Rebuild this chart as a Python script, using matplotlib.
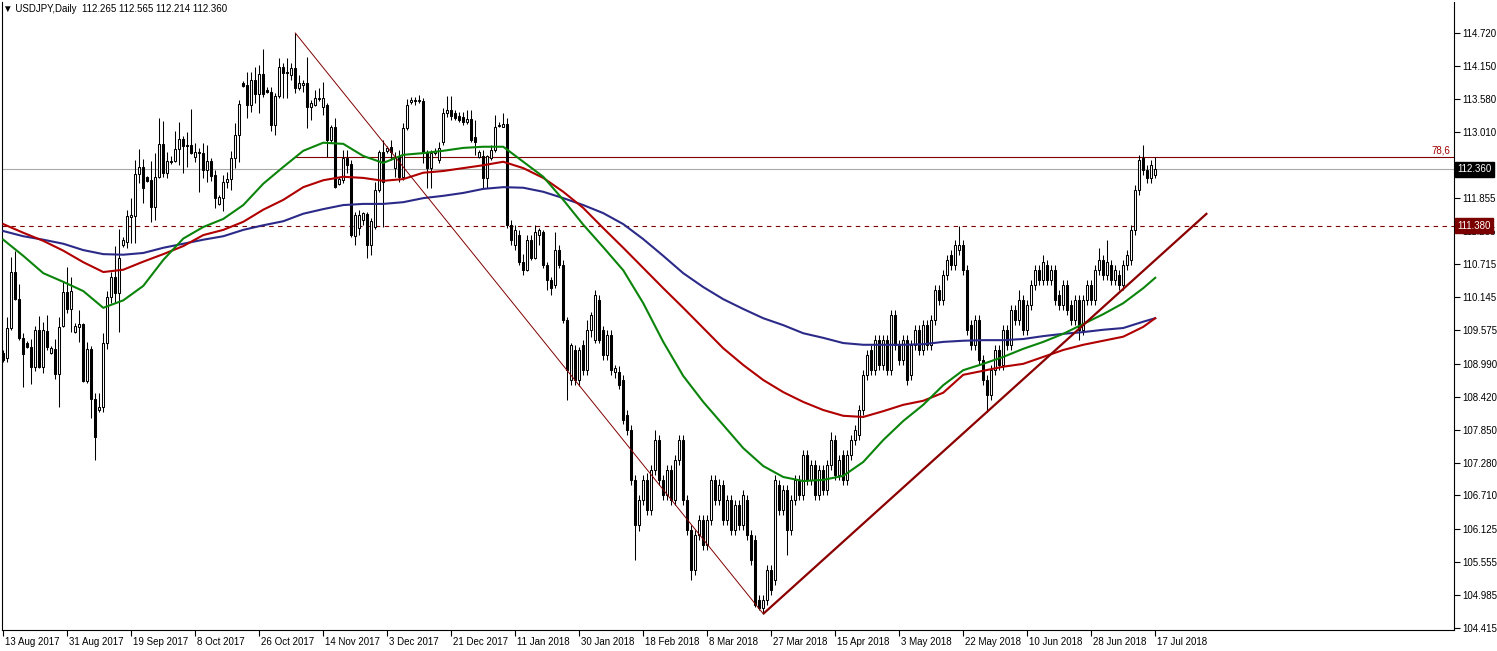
import matplotlib
matplotlib.use("Agg")
import matplotlib.pyplot as plt
import matplotlib.transforms as mtransforms
import numpy as np

plt.rcParams['font.family'] = ['Liberation Sans', 'DejaVu Sans']

# ---------------- data ----------------
open_ = [
 109.18,109.09,109.61,110.58,110.11,109.44,109.35,109.28,108.94,109.58,
 108.94,109.56,109.18,109.25,108.81,109.65,110.23,109.94,109.54,109.63,
 109.68,108.70,109.25,108.38,108.19,108.24,109.35,110.15,110.49,110.22,
 111.05,111.10,111.53,111.55,112.28,112.40,112.23,112.17,111.71,112.23,
 112.80,112.30,112.49,112.50,112.71,112.88,112.78,112.78,112.57,112.66,
 112.64,112.35,112.50,112.26,111.76,111.86,112.14,112.19,112.56,112.95,
 113.85,113.82,113.47,113.91,113.66,114.01,113.73,113.70,113.13,113.63,
 114.13,114.04,113.99,114.11,113.77,113.82,113.86,113.44,113.47,113.58,
 113.44,113.47,112.87,113.09,112.11,112.17,112.56,112.45,111.20,111.34,
 111.48,111.59,111.05,111.36,112.00,112.66,112.68,112.75,112.38,112.59,
 112.23,113.08,113.53,113.56,113.54,113.54,112.66,112.38,112.64,112.52,
 112.83,113.33,113.39,113.33,113.28,113.27,113.18,113.23,112.92,112.57,
 112.59,112.21,112.56,112.69,113.11,113.09,113.14,111.39,111.05,111.22,
 110.75,110.62,111.14,110.82,111.22,111.27,110.70,110.44,110.36,110.96,
 110.70,109.75,108.71,109.23,108.71,109.32,108.88,109.58,109.40,110.10,
 109.58,109.14,109.49,108.85,108.85,108.71,108.10,107.85,106.98,106.20,
 106.63,106.98,106.46,107.15,107.67,106.98,106.72,107.15,106.63,107.32,
 107.67,106.63,106.11,105.42,106.03,106.29,105.85,106.29,106.98,106.63,
 106.89,106.29,106.63,106.11,106.55,106.20,106.63,106.03,105.94,104.90,
 104.76,104.90,105.42,105.25,106.89,106.46,106.80,106.11,106.63,106.98,
 106.72,107.41,106.98,107.24,106.72,107.15,106.81,107.24,107.67,107.06,
 107.41,106.98,107.41,107.67,107.76,108.19,108.80,109.23,108.88,109.40,
 108.97,109.40,108.88,109.84,109.32,109.06,109.40,108.80,109.32,109.58,
 109.23,109.66,109.32,109.75,110.27,110.10,110.53,110.88,110.70,110.96,
 111.05,110.62,109.66,109.32,109.75,109.06,108.71,108.45,108.88,109.23,
 108.97,109.58,109.32,109.92,109.75,110.10,109.58,110.01,110.36,110.62,
 110.44,110.70,110.44,110.62,110.18,110.01,110.36,110.01,109.75,110.10,
 109.58,110.10,110.36,110.10,110.62,110.79,110.53,110.70,110.44,110.53,
 110.36,110.70,110.79,111.31,112.00,112.56,112.35,112.21,112.265]
high = [
 109.23,109.80,110.84,110.95,110.37,109.53,109.39,109.42,109.65,109.82,
 109.72,109.84,109.30,109.42,109.80,110.41,110.67,110.49,109.70,109.92,
 109.70,109.37,109.30,108.49,108.49,109.53,110.25,110.58,111.03,111.33,
 111.19,111.66,111.86,112.52,112.71,112.54,112.24,112.50,112.64,113.25,
 113.20,112.66,112.59,113.02,113.18,112.94,113.01,113.40,112.82,112.73,
 112.82,112.78,112.56,112.35,111.92,112.26,112.31,112.68,113.16,113.56,
 113.89,114.04,114.04,114.13,114.17,114.44,113.79,113.79,113.68,114.29,
 114.20,114.29,114.20,114.72,113.99,113.91,114.31,113.56,113.73,113.77,
 113.87,113.51,113.13,113.25,112.23,112.69,112.69,112.52,111.62,111.66,
 111.62,111.62,111.52,112.14,112.69,112.87,112.76,112.87,112.66,112.69,
 113.16,113.58,113.61,113.61,113.65,113.59,112.69,112.69,112.73,112.83,
 113.42,113.63,113.63,113.39,113.35,113.35,113.39,113.39,113.21,112.69,
 112.69,112.61,112.78,113.30,113.18,113.33,113.25,111.48,111.40,111.31,
 110.90,111.22,111.22,111.40,111.35,111.31,110.75,110.50,111.27,111.05,
 110.79,109.80,109.35,109.32,109.28,109.40,109.75,109.88,110.27,110.18,
 109.65,109.58,109.58,108.97,108.95,108.80,108.19,107.93,107.06,106.72,
 107.06,107.10,107.24,107.85,107.76,107.06,107.24,107.24,107.41,107.76,
 107.76,106.72,106.20,106.11,106.37,106.37,106.37,107.06,107.06,107.00,
 106.98,106.72,106.72,106.63,106.63,106.80,106.72,106.11,106.03,104.99,
 104.99,105.51,105.51,107.06,106.98,106.89,106.89,106.72,107.06,107.06,
 107.50,107.50,107.32,107.32,107.24,107.24,107.32,107.81,107.76,107.41,
 107.50,107.50,107.76,107.93,108.27,108.88,109.23,109.32,109.49,109.49,
 109.49,109.49,109.92,109.92,109.40,109.49,109.49,109.40,109.66,109.66,
 109.75,109.75,109.84,110.36,110.36,110.62,110.87,110.96,111.14,111.38,
 111.14,110.70,109.75,109.84,109.84,109.14,108.80,108.97,109.32,109.32,
 109.66,109.66,110.01,110.01,110.27,110.18,110.10,110.44,110.70,110.70,
 110.88,110.79,110.70,110.70,110.27,110.44,110.44,110.10,110.18,110.18,
 110.18,110.44,110.44,110.70,111.00,110.88,111.14,110.79,110.70,110.62,
 110.79,110.96,111.40,112.09,112.61,112.78,112.43,112.52,112.565]
low = [
 109.02,109.02,109.58,110.10,109.40,108.59,109.27,108.64,108.87,108.92,
 108.83,109.23,109.16,108.73,108.24,109.63,109.87,109.54,109.53,109.37,
 108.68,108.66,108.05,107.32,108.16,108.16,109.25,110.04,110.04,109.54,
 111.01,111.00,111.08,111.08,112.12,111.78,112.14,111.45,111.48,112.21,
 112.23,112.21,112.45,112.49,112.43,112.30,112.40,112.62,112.49,111.97,
 112.21,112.14,112.16,111.69,111.74,111.64,112.04,112.00,112.38,112.49,
 113.79,113.25,113.35,113.51,113.33,113.61,113.68,113.02,112.95,113.59,
 113.59,113.59,113.91,113.68,113.73,113.70,113.08,113.21,113.46,113.54,
 113.30,112.57,112.83,112.04,112.09,112.12,112.30,111.19,111.05,111.22,
 111.40,110.82,110.88,111.33,111.97,111.36,112.64,112.52,112.23,112.14,
 112.17,113.04,113.49,113.47,113.51,112.47,112.04,112.04,112.61,112.47,
 112.78,113.27,113.21,113.21,113.18,113.13,113.14,112.83,112.61,112.56,
 112.04,112.04,112.52,112.66,113.09,113.09,111.34,111.05,110.96,110.70,
 110.53,110.60,110.78,110.80,111.05,110.65,110.27,110.18,110.30,110.65,
 109.70,108.36,108.62,108.62,108.60,108.80,108.80,109.45,109.35,109.35,
 109.06,109.06,108.80,108.75,108.55,107.95,107.76,106.90,105.59,106.10,
 106.55,106.37,106.37,107.06,106.90,106.63,106.63,106.55,106.55,107.24,
 106.55,106.03,105.25,105.33,105.94,105.77,105.77,106.20,106.55,106.55,
 106.20,106.20,106.03,106.03,106.11,106.11,105.94,105.51,104.78,104.72,
 104.66,104.81,104.99,105.16,106.37,106.37,105.68,106.03,106.55,106.63,
 106.63,106.89,106.89,106.63,106.63,106.72,106.72,107.15,106.98,106.98,
 106.89,106.89,107.32,107.58,107.67,108.10,108.71,108.80,108.80,108.88,
 108.88,108.80,108.80,109.23,108.97,108.97,108.62,108.71,109.23,109.14,
 109.14,109.23,109.23,109.66,110.01,110.01,110.44,110.62,110.62,110.88,
 110.53,109.49,109.23,109.23,108.97,108.62,108.16,108.36,108.80,108.88,
 108.88,109.23,109.23,109.66,109.66,109.49,109.49,109.92,110.27,110.36,
 110.36,110.36,110.36,110.01,109.92,109.92,109.84,109.66,109.66,109.40,
 109.49,110.01,110.01,110.01,110.53,110.44,110.44,110.36,110.36,110.27,
 110.27,110.62,110.70,111.22,111.91,112.26,112.13,112.13,112.214]
close = [
 109.06,109.61,110.58,110.11,109.44,109.16,109.28,108.94,109.58,108.94,
 109.58,109.28,109.27,108.81,109.63,110.23,109.94,110.25,109.65,109.68,
 108.70,109.25,108.38,107.72,108.24,109.35,110.15,110.49,110.22,110.82,
 111.14,111.55,111.57,112.28,112.40,112.04,112.16,111.71,112.23,112.80,
 112.30,112.50,112.50,112.71,112.88,112.76,112.77,112.64,112.66,112.64,
 112.35,112.50,112.24,111.86,111.88,112.14,112.19,112.56,112.95,113.49,
 113.81,113.47,113.91,113.66,114.01,113.66,113.70,113.13,113.63,114.13,
 114.03,114.03,114.11,113.77,113.86,113.86,113.44,113.51,113.60,113.60,
 113.60,112.87,113.09,112.05,112.19,112.56,112.43,111.22,111.57,111.57,
 111.60,111.05,111.46,112.00,112.66,112.14,112.73,112.66,112.57,112.23,
 113.08,113.47,113.56,113.54,113.56,112.66,112.38,112.64,112.68,112.73,
 113.33,113.39,113.28,113.25,113.21,113.18,113.23,112.87,112.83,112.66,
 112.21,112.59,112.69,113.09,113.13,113.14,111.39,111.14,111.31,110.75,
 110.62,111.14,110.82,111.27,111.30,110.70,110.44,110.30,110.96,110.70,
 109.75,108.88,109.32,108.71,109.23,108.88,109.58,109.84,110.18,109.40,
 109.14,109.49,108.88,108.92,108.62,108.02,107.85,106.98,106.20,106.63,
 106.98,106.46,107.15,107.67,106.98,106.72,107.15,106.63,107.32,107.67,
 106.63,106.11,105.42,106.03,106.29,105.85,106.29,106.98,106.63,106.89,
 106.29,106.63,106.11,106.55,106.20,106.72,106.03,105.59,104.81,104.76,
 104.90,105.42,105.07,106.98,106.46,106.80,106.11,106.63,106.98,106.72,
 107.41,106.98,107.24,106.72,107.15,106.81,107.24,107.67,107.06,107.32,
 106.98,107.41,107.67,107.85,108.19,108.80,109.14,108.88,109.40,108.97,
 109.40,108.88,109.84,109.32,109.06,109.40,108.71,109.32,109.58,109.23,
 109.66,109.32,109.75,110.27,110.10,110.53,110.79,110.70,111.05,111.05,
 110.62,109.58,109.32,109.75,109.06,108.71,108.45,108.88,109.23,108.97,
 109.58,109.32,109.92,109.75,110.10,109.58,110.01,110.36,110.62,110.44,
 110.75,110.44,110.62,110.10,110.01,110.36,109.92,109.75,110.10,109.58,
 110.10,110.36,110.10,110.62,110.79,110.53,110.75,110.44,110.62,110.36,
 110.70,110.88,111.31,112.00,112.52,112.35,112.21,112.43,112.360]

# moving averages, read every 5 bars (last point = last bar)
ma_bars = list(range(0, 286, 5)) + [288]
ma_green = [
 111.14,110.86,110.56,110.41,110.25,109.96,110.09,110.34,110.79,111.16,
 111.36,111.50,111.74,112.11,112.40,112.68,112.82,112.80,112.59,112.47,
 112.61,112.64,112.68,112.73,112.75,112.75,112.49,112.23,111.83,111.40,
 111.01,110.61,110.04,109.37,108.78,108.33,107.93,107.53,107.22,107.03,
 106.96,106.98,107.05,107.29,107.67,108.00,108.28,108.62,108.88,108.99,
 109.11,109.25,109.37,109.51,109.68,109.85,110.04,110.30,110.48]
ma_red = [
 111.41,111.26,111.12,110.95,110.75,110.58,110.62,110.76,110.89,111.03,
 111.22,111.31,111.45,111.66,111.83,112.05,112.17,112.23,112.21,112.16,
 112.19,112.30,112.33,112.38,112.43,112.49,112.38,112.21,111.97,111.69,
 111.34,111.00,110.65,110.30,109.96,109.61,109.26,108.97,108.71,108.50,
 108.33,108.19,108.09,108.07,108.17,108.28,108.35,108.49,108.80,108.87,
 108.94,108.99,109.11,109.23,109.32,109.39,109.46,109.63,109.78]
ma_navy = [
 111.29,111.20,111.14,111.07,110.96,110.89,110.88,110.91,111.00,111.07,
 111.14,111.20,111.31,111.39,111.46,111.59,111.67,111.74,111.76,111.76,
 111.79,111.86,111.90,111.95,112.02,112.05,112.04,111.97,111.86,111.74,
 111.60,111.41,111.15,110.86,110.56,110.32,110.11,109.94,109.78,109.66,
 109.52,109.44,109.35,109.32,109.32,109.32,109.33,109.37,109.39,109.40,
 109.40,109.42,109.47,109.51,109.54,109.58,109.61,109.72,109.78]

date_bars = [0,16,32,48,64,80,96,112,128,144,160,176,192,208,224,240,256,272,288]
date_labels = ["13 Aug 2017","31 Aug 2017","19 Sep 2017","8 Oct 2017","26 Oct 2017",
               "14 Nov 2017","3 Dec 2017","21 Dec 2017","11 Jan 2018","30 Jan 2018",
               "18 Feb 2018","8 Mar 2018","27 Mar 2018","15 Apr 2018","3 May 2018",
               "22 May 2018","10 Jun 2018","28 Jun 2018","17 Jul 2018"]
price_ticks = [114.720,114.150,113.580,113.010,112.440,111.855,111.285,110.715,110.145,
               109.575,108.990,108.420,107.850,107.280,106.710,106.125,105.555,104.985,104.415]
# label hidden behind the bid box in the reference
hidden_tick_labels = [112.440]

bid_price = 112.360
level_price = 111.380
fib_high_bar, fib_low_bar = 73, 190
trend_bars = [190, 301]
trend_prices = [104.66, 111.60]

# ---------------- figure ----------------
W, H = 1497, 651
fig = plt.figure(figsize=(W/100, H/100), dpi=100)
ax = fig.add_axes([2/W, 21/H, 1452/W, 628/H])
ax.set_xlim(-0.325, 362.7)
ax.set_ylim(104.380, 115.257)

n = len(close)
xs = np.arange(n)
o = np.array(open_); c = np.array(close); hi = np.array(high); lo = np.array(low)
up = c >= o

ax.vlines(xs, lo, hi, color='black', linewidth=0.75, zorder=2)
bottom = np.minimum(o, c)
height = np.maximum(np.abs(c - o), 0.004)
ax.bar(xs[up], height[up], bottom=bottom[up], width=0.5, facecolor='white',
       edgecolor='black', linewidth=0.75, zorder=3)
ax.bar(xs[~up], height[~up], bottom=bottom[~up], width=0.5, facecolor='black',
       edgecolor='black', linewidth=0.75, zorder=3)

# moving averages
ax.plot(ma_bars, ma_navy, color='#2B2A88', lw=1.5, zorder=4, solid_joinstyle='round')
ax.plot(ma_bars, ma_red, color='#B00000', lw=1.5, zorder=4, solid_joinstyle='round')
ax.plot(ma_bars, ma_green, color='#0A840A', lw=1.5, zorder=4, solid_joinstyle='round')

# horizontal lines
ax.axhline(bid_price, color='#A8A8A8', lw=0.8, zorder=1)
ax.axhline(level_price, color='#800000', lw=0.8, ls=(0, (4, 4)), zorder=1)

# fibonacci line and 78.6 level
fh = high[fib_high_bar]; fl = low[fib_low_bar]
ax.plot([fib_high_bar, fib_low_bar], [fh, fl], color='#800000', lw=0.7, zorder=5)
f786 = fl + 0.786 * (fh - fl)
ax.plot([fib_high_bar, 362.7], [f786, f786], color='#800000', lw=0.8, zorder=1)
ax.text(361.8, f786 + 0.03, '78,6', color='#A00000', fontsize=7, ha='right', va='bottom')

# trend line
ax.plot(trend_bars, trend_prices, color='#8B0000', lw=1.6, zorder=5, solid_capstyle='butt')

# axes styling
ax.spines['top'].set_visible(False)
for s in ['left', 'right', 'bottom']:
    ax.spines[s].set_linewidth(0.8)
    ax.spines[s].set_color('black')

ax.yaxis.tick_right()
ax.set_yticks(price_ticks)
ax.set_yticklabels(['' if p in hidden_tick_labels else '%.3f' % p for p in price_ticks])
ax.tick_params(axis='y', direction='out', length=4, width=0.8, pad=2, labelsize=7,
               right=True, left=False)
ax.set_xticks(date_bars)
ax.set_xticklabels(date_labels)
ax.tick_params(axis='x', direction='out', length=4, width=0.8, pad=1, labelsize=7)
offset = mtransforms.ScaledTranslation(2/100, 0, fig.dpi_scale_trans)
for lab in ax.get_xticklabels():
    lab.set_horizontalalignment('left')
    lab.set_transform(lab.get_transform() + offset)

# price boxes on right axis
bt = mtransforms.blended_transform_factory(ax.transAxes, ax.transData)
ax.text(1.0 + 3/1452, bid_price, '%.3f' % bid_price, transform=bt, color='white', fontsize=7,
        ha='left', va='center', zorder=10,
        bbox=dict(boxstyle='square,pad=0.25', fc='black', ec='black'), clip_on=False)
ax.text(1.0 + 3/1452, level_price, '%.3f' % level_price, transform=bt, color='white', fontsize=7,
        ha='left', va='center', zorder=10,
        bbox=dict(boxstyle='square,pad=0.25', fc='#7A0000', ec='#7A0000'), clip_on=False)

# header
fig.text(3/W, 1 - 9/H, '\u25BC USDJPY,Daily  112.265 112.565 112.214 112.360', fontsize=7,
         ha='left', va='center', color='black')

fig.savefig('out.png', dpi=100, facecolor='white')
